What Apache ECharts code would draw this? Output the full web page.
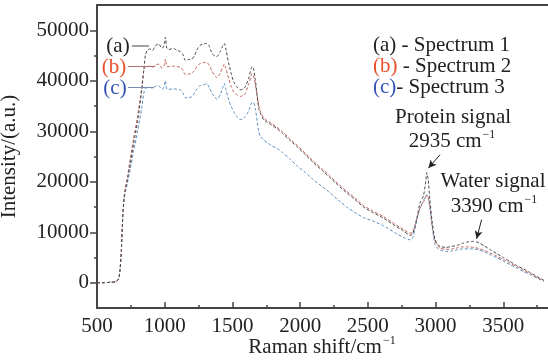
<!DOCTYPE html>
<html>
<head>
<meta charset="utf-8">
<script src="https://cdn.jsdelivr.net/npm/echarts@6/dist/echarts.min.js"></script>
<style>html,body{margin:0;padding:0;background:#fff}#c{width:548px;height:362px}</style>
</head>
<body>
<div id="c"></div>
<script>
// Raman shift (cm^-1)
var ramanShift = [
  500, 550, 600, 640, 660, 670, 680, 690, 700, 710, 725, 745, 770, 800, 830, 845, 857, 870, 890,
  910, 930, 955, 980, 995, 1005, 1015, 1030, 1066, 1090, 1115, 1135, 1152, 1175, 1201, 1220, 1238, 1260, 1288, 1312, 1330, 1349, 1370, 1386, 1410, 1430, 1440, 1450,
  1472, 1490, 1509, 1535, 1558, 1580, 1595, 1620, 1645, 1655, 1669, 1694, 1706, 1730, 1755, 1790, 1829,
  1870, 1920, 1975, 2040, 2097, 2160, 2221, 2280, 2344, 2400, 2467, 2530, 2614, 2700, 2760, 2811,
  2830, 2848, 2865, 2885, 2910, 2925, 2935, 2945, 2958, 2975, 2995, 3015, 3033, 3077,
  3120, 3160, 3200, 3240, 3280, 3320, 3360, 3400, 3450, 3500, 3550, 3600, 3650, 3700, 3750, 3800
];
var spectrum1 = [
  0, 0, 100, 200, 800, 2500, 6500, 13000, 16800, 18500, 20500, 23500, 27500, 32000, 38000, 42000, 45000, 46000, 46300,
  46000, 46900, 47300, 46400, 47000, 48600, 46500, 46200, 46400, 46000, 45800, 45200, 44000, 44200, 44300, 45000, 46100, 47000, 47300, 47400, 46800, 45400, 44900, 44800, 45800, 47000, 47400, 46500,
  43500, 41500, 39800, 38700, 38200, 38400, 38800, 40500, 42800, 42500, 40200, 34500, 33600, 32300, 31800, 31200, 30500,
  29600, 28300, 27000, 25300, 23800, 22300, 20800, 19300, 17800, 16600, 15000, 14000, 12800, 11300, 10300, 9400,
  9600, 11200, 13200, 15800, 17200, 19500, 21800, 20500, 16500, 12000, 8600, 7600, 7200, 7000,
  7200, 7400, 7800, 8100, 8200, 7900, 7300, 6600, 5800, 5000, 4200, 3400, 2700, 2000, 1200, 500
];
var spectrum2 = [
  0, 0, 100, 200, 800, 2500, 6500, 13000, 16800, 18800, 21000, 24500, 28500, 33000, 38500, 42000, 42800, 42800, 42900,
  42600, 43100, 43300, 42500, 43000, 44300, 42900, 42800, 42900, 42800, 42700, 42100, 41200, 41300, 41500, 42000, 42800, 43400, 43600, 43600, 43000, 41900, 41000, 40600, 41500, 42800, 43300, 42600,
  40500, 39000, 37800, 37200, 36900, 37100, 37500, 39300, 41400, 41000, 39200, 35200, 34000, 32700, 32100, 31500, 30800,
  29900, 28600, 27300, 25600, 24100, 22600, 21100, 19600, 18100, 16900, 15300, 14300, 13100, 11600, 10600, 9800,
  10000, 11400, 13000, 14800, 15900, 16800, 17300, 17000, 15000, 11500, 8400, 7300, 6900, 6600,
  6700, 6900, 7100, 7100, 7000, 6800, 6400, 5900, 5300, 4600, 3900, 3200, 2500, 1800, 1000, 400
];
var spectrum3 = [
  0, 0, 100, 200, 800, 2500, 6500, 13000, 16500, 18000, 19800, 22500, 26000, 30000, 34500, 37500, 38500, 38600, 38700,
  38500, 38900, 39000, 38300, 38800, 40000, 38400, 38300, 38400, 38300, 38200, 37600, 36600, 36700, 36800, 37600, 38400, 39000, 39200, 39400, 38600, 37500, 36800, 36300, 37200, 38800, 39500, 38500,
  36200, 35000, 33900, 32800, 32300, 32500, 32900, 34000, 35700, 35700, 34500, 30000, 29000, 28300, 27800, 27100, 26600,
  25800, 24600, 23200, 21800, 20400, 19100, 17800, 16400, 15000, 14000, 12900, 12300, 11300, 9900, 9000, 8500,
  8800, 10600, 12800, 14800, 16300, 17000, 17400, 17000, 14800, 11000, 7600, 6800, 6500, 6200,
  6300, 6500, 6700, 6700, 6700, 6500, 6100, 5600, 5000, 4300, 3600, 2900, 2200, 1600, 900, 300
];
var yTickLabels = [0, 10000, 20000, 30000, 40000, 50000];
var yMinorTicks = [5000, 15000, 25000, 35000, 45000];
var seriesNames = ['Spectrum 1', 'Spectrum 2', 'Spectrum 3'];
// annotation arrows [from, to] in data units
var proteinArrow = [[3033, 25350], [2947, 22700]];
var waterArrow = [[3340, 12500], [3303, 8700]];

var FONT = '"Liberation Serif", "Times New Roman", serif';
var TXT = '#222';
var AX = '#444';
var colors = ['#4a4a4a', '#c0605a', '#5a8fc0'];

function pairs(ys) { return ramanShift.map(function (x, i) { return [x, ys[i]]; }); }
function plain(v) { return String(v); }

var chart = echarts.init(document.getElementById('c'), null, { renderer: 'canvas' });

var seriesData = [spectrum1, spectrum2, spectrum3];
var series = seriesData.map(function (d, i) {
  var s = {
    name: seriesNames[i], type: 'line', data: pairs(d), showSymbol: false, symbol: 'none',
    smooth: 0.2, xAxisIndex: 0, yAxisIndex: 0,
    lineStyle: { color: colors[i], width: 1, type: [3, 2] }, z: 3 - i
  };
  if (i === 0) {
    s.markLine = {
      silent: true, animation: false, symbol: ['none', 'arrow'], symbolSize: [6, 8],
      label: { show: false },
      lineStyle: { color: '#222', type: 'solid', width: 1 },
      data: [
        [{ coord: proteinArrow[0] }, { coord: proteinArrow[1] }],
        [{ coord: waterArrow[0] }, { coord: waterArrow[1] }]
      ]
    };
  }
  return s;
});

function txt(x, y, text, align, extra) {
  return {
    type: 'text', x: x, y: y, z: 10,
    style: Object.assign({
      text: text, fill: TXT, fontSize: 21, fontFamily: FONT,
      align: align || 'center', verticalAlign: 'middle',
      rich: {
        m: { fontSize: 21, fontFamily: FONT, fill: TXT, lineHeight: 24 },
        sup: { fontSize: 12, fontFamily: FONT, fill: TXT, verticalAlign: 'top', lineHeight: 12, padding: [0, 0, 0, 1] },
        r: { fontSize: 21, fontFamily: FONT, fill: '#e8502a' },
        b: { fontSize: 21, fontFamily: FONT, fill: '#3454b4' },
        k: { fontSize: 21, fontFamily: FONT, fill: TXT }
      }
    }, extra || {})
  };
}
function seg(x1, y1, x2, y2, c) {
  return { type: 'line', z: 9, shape: { x1: x1, y1: y1, x2: x2, y2: y2 }, style: { stroke: c, lineWidth: 1 } };
}

var option = {
  animation: false,
  backgroundColor: '#fff',
  grid: { left: 97, top: 5, bottom: 54, right: -23, containLabel: false, outerBoundsMode: 'none' },
  xAxis: [{
    type: 'value', min: 500, max: 4000, interval: 500, position: 'bottom',
    axisLine: { show: true, onZero: false, lineStyle: { color: AX, width: 2 } },
    axisTick: { show: true, inside: true, length: 6, lineStyle: { color: AX, width: 1.5 } },
    minorTick: { show: true, splitNumber: 2, length: 3, lineStyle: { color: AX, width: 1.5 } },
    axisLabel: { color: TXT, fontSize: 21, fontFamily: FONT, margin: 8, showMaxLabel: false, formatter: plain },
    splitLine: { show: false }, minorSplitLine: { show: false }
  }, {
    type: 'value', min: 500, max: 4000, position: 'top',
    axisLine: { show: true, onZero: false, lineStyle: { color: AX, width: 2 } },
    axisTick: { show: false }, axisLabel: { show: false }, splitLine: { show: false }
  }],
  yAxis: [{
    type: 'value', min: -5000, max: 55000, position: 'left',
    name: 'Intensity/(a.u.)', nameLocation: 'middle', nameGap: 77, nameRotate: 90,
    nameTextStyle: { color: TXT, fontSize: 21, fontFamily: FONT },
    axisLine: { show: true, onZero: false, lineStyle: { color: AX, width: 2 } },
    axisTick: { show: true, inside: false, length: 7, customValues: yTickLabels, lineStyle: { color: AX, width: 1.5 } },
    axisLabel: { color: TXT, fontSize: 21, fontFamily: FONT, margin: 8, customValues: yTickLabels, formatter: plain },
    splitLine: { show: false }
  }, {
    type: 'value', min: -5000, max: 55000, position: 'left',
    axisLine: { show: false, onZero: false },
    axisTick: { show: true, inside: false, length: 3, customValues: yMinorTicks, lineStyle: { color: AX, width: 1.5 } },
    axisLabel: { show: false, customValues: yMinorTicks },
    splitLine: { show: false }
  }],
  series: series,
  graphic: [
    txt(322, 347, '{m|Raman shift/cm}{sup|−1}'),
    txt(118, 46, '(a)'),
    txt(114, 67, '{r|(b)}'),
    txt(115, 88, '{b|(c)}'),
    seg(132, 46, 149, 46, '#444'),
    seg(128, 66.5, 155, 66.5, '#b07070'),
    seg(128, 87.5, 154, 87.5, '#7a8aa8'),
    txt(373, 45, '{k|(a) - Spectrum 1}', 'left'),
    txt(373, 66, '{r|(b)}{k| - Spectrum 2}', 'left'),
    txt(373, 87, '{b|(c)}{k|- Spectrum 3}', 'left'),
    txt(453, 117, 'Protein signal'),
    txt(452, 141, '{m|2935 cm}{sup|−1}'),
    txt(493, 181, 'Water signal'),
    txt(494, 206, '{m|3390 cm}{sup|−1}')
  ]
};
chart.setOption(option);
</script>
</body>
</html>
